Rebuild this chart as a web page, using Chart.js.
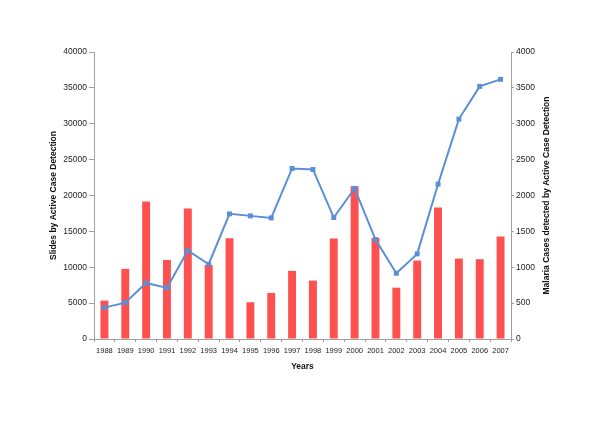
<!DOCTYPE html>
<html lang="en">
<head>
    <meta charset="UTF-8">
    <title>Slides and malaria cases by active case detection</title>
    <script src="https://cdn.jsdelivr.net/npm/chart.js"></script>
    <style>
        body {
            margin: 0;
            padding: 0;
            background: #fff;
        }
        canvas {
            display: block;
        }
    </style>
</head>
<body>
    <canvas id="myChart" width="600" height="424"></canvas>

    <script>
        // Données
        const years = ['1988', '1989', '1990', '1991', '1992', '1993', '1994', '1995', '1996', '1997',
                       '1998', '1999', '2000', '2001', '2002', '2003', '2004', '2005', '2006', '2007'];
        const slides = [5350, 9770, 19160, 11020, 18190, 10330, 14050, 5120, 6420, 9490,
                        8140, 14000, 21300, 14090, 7160, 10930, 18330, 11210, 11120, 14280];
        const cases = [437, 507, 781, 712, 1233, 1042, 1744, 1716, 1688, 2377,
                       2363, 1693, 2098, 1386, 916, 1186, 2158, 3065, 3521, 3619];
        const rightTitle = 'Malaria Cases detected by Active Case Detection';

        const axisColor = '#a0a0a0';
        const tickFont = { family: 'Liberation Sans', size: 8.5 };
        const titleFont = { family: 'Liberation Sans', size: 8.5, weight: 'bold' };

        // Le titre de droite se lit de bas en haut, comme celui de gauche
        const rightTitlePlugin = {
            id: 'rightTitle',
            afterDraw(chart) {
                const c = chart.ctx;
                const area = chart.chartArea;
                c.save();
                c.translate(547, (area.top + area.bottom) / 2);
                c.rotate(-Math.PI / 2);
                c.font = 'bold 8.5px "Liberation Sans"';
                c.fillStyle = '#111';
                c.textAlign = 'center';
                c.textBaseline = 'middle';
                c.fillText(rightTitle, 0, 0);
                c.restore();
            }
        };

        const ctx = document.getElementById('myChart').getContext('2d');

        new Chart(ctx, {
            type: 'bar',
            data: {
                labels: years,
                datasets: [
                    {
                        type: 'line',
                        label: 'Malaria cases',
                        data: cases,
                        yAxisID: 'y1',
                        borderColor: '#5a8fd8',
                        backgroundColor: '#5a8fd8',
                        borderWidth: 2,
                        pointStyle: 'rect',
                        pointRadius: 3.5,
                        pointBorderWidth: 0,
                        tension: 0,
                        order: 0
                    },
                    {
                        type: 'bar',
                        label: 'Slides',
                        data: slides,
                        yAxisID: 'y',
                        backgroundColor: '#ff5050',
                        barPercentage: 0.38,
                        categoryPercentage: 1,
                        order: 1
                    }
                ]
            },
            options: {
                responsive: false,
                animation: false,
                layout: {
                    padding: { top: 52, bottom: 44, left: 44, right: 40 }
                },
                plugins: {
                    legend: { display: false },
                    tooltip: { enabled: false }
                },
                scales: {
                    x: {
                        offset: true,
                        grid: {
                            display: true,
                            drawOnChartArea: false,
                            drawTicks: true,
                            tickLength: 3,
                            color: axisColor,
                            offset: true
                        },
                        border: { color: axisColor },
                        ticks: {
                            font: { family: 'Liberation Sans', size: 7.5 },
                            color: '#222',
                            padding: 4,
                            maxRotation: 0,
                            autoSkip: false
                        },
                        title: {
                            display: true,
                            text: 'Years',
                            font: titleFont,
                            color: '#111',
                            padding: { top: 0, bottom: 8 }
                        },
                        afterFit: s => { s.height = 41; }
                    },
                    y: {
                        position: 'left',
                        min: 0,
                        max: 40000,
                        grid: {
                            drawOnChartArea: false,
                            tickLength: 5,
                            color: axisColor
                        },
                        border: { color: axisColor },
                        ticks: {
                            stepSize: 5000,
                            font: tickFont,
                            color: '#222',
                            padding: 2,
                            callback: v => String(v)
                        },
                        title: {
                            display: true,
                            text: 'Slides by Active Case Detection',
                            font: titleFont,
                            color: '#111',
                            padding: { top: 5, bottom: 0 }
                        },
                        afterFit: s => { s.width = 50; }
                    },
                    y1: {
                        position: 'right',
                        min: 0,
                        max: 4000,
                        grid: {
                            drawOnChartArea: false,
                            tickLength: 3,
                            color: axisColor
                        },
                        border: { color: axisColor },
                        ticks: {
                            stepSize: 500,
                            font: tickFont,
                            color: '#222',
                            padding: 2,
                            callback: v => String(v)
                        },
                        afterFit: s => { s.width = 49; }
                    }
                }
            },
            plugins: [rightTitlePlugin]
        });
    </script>
</body>
</html>
